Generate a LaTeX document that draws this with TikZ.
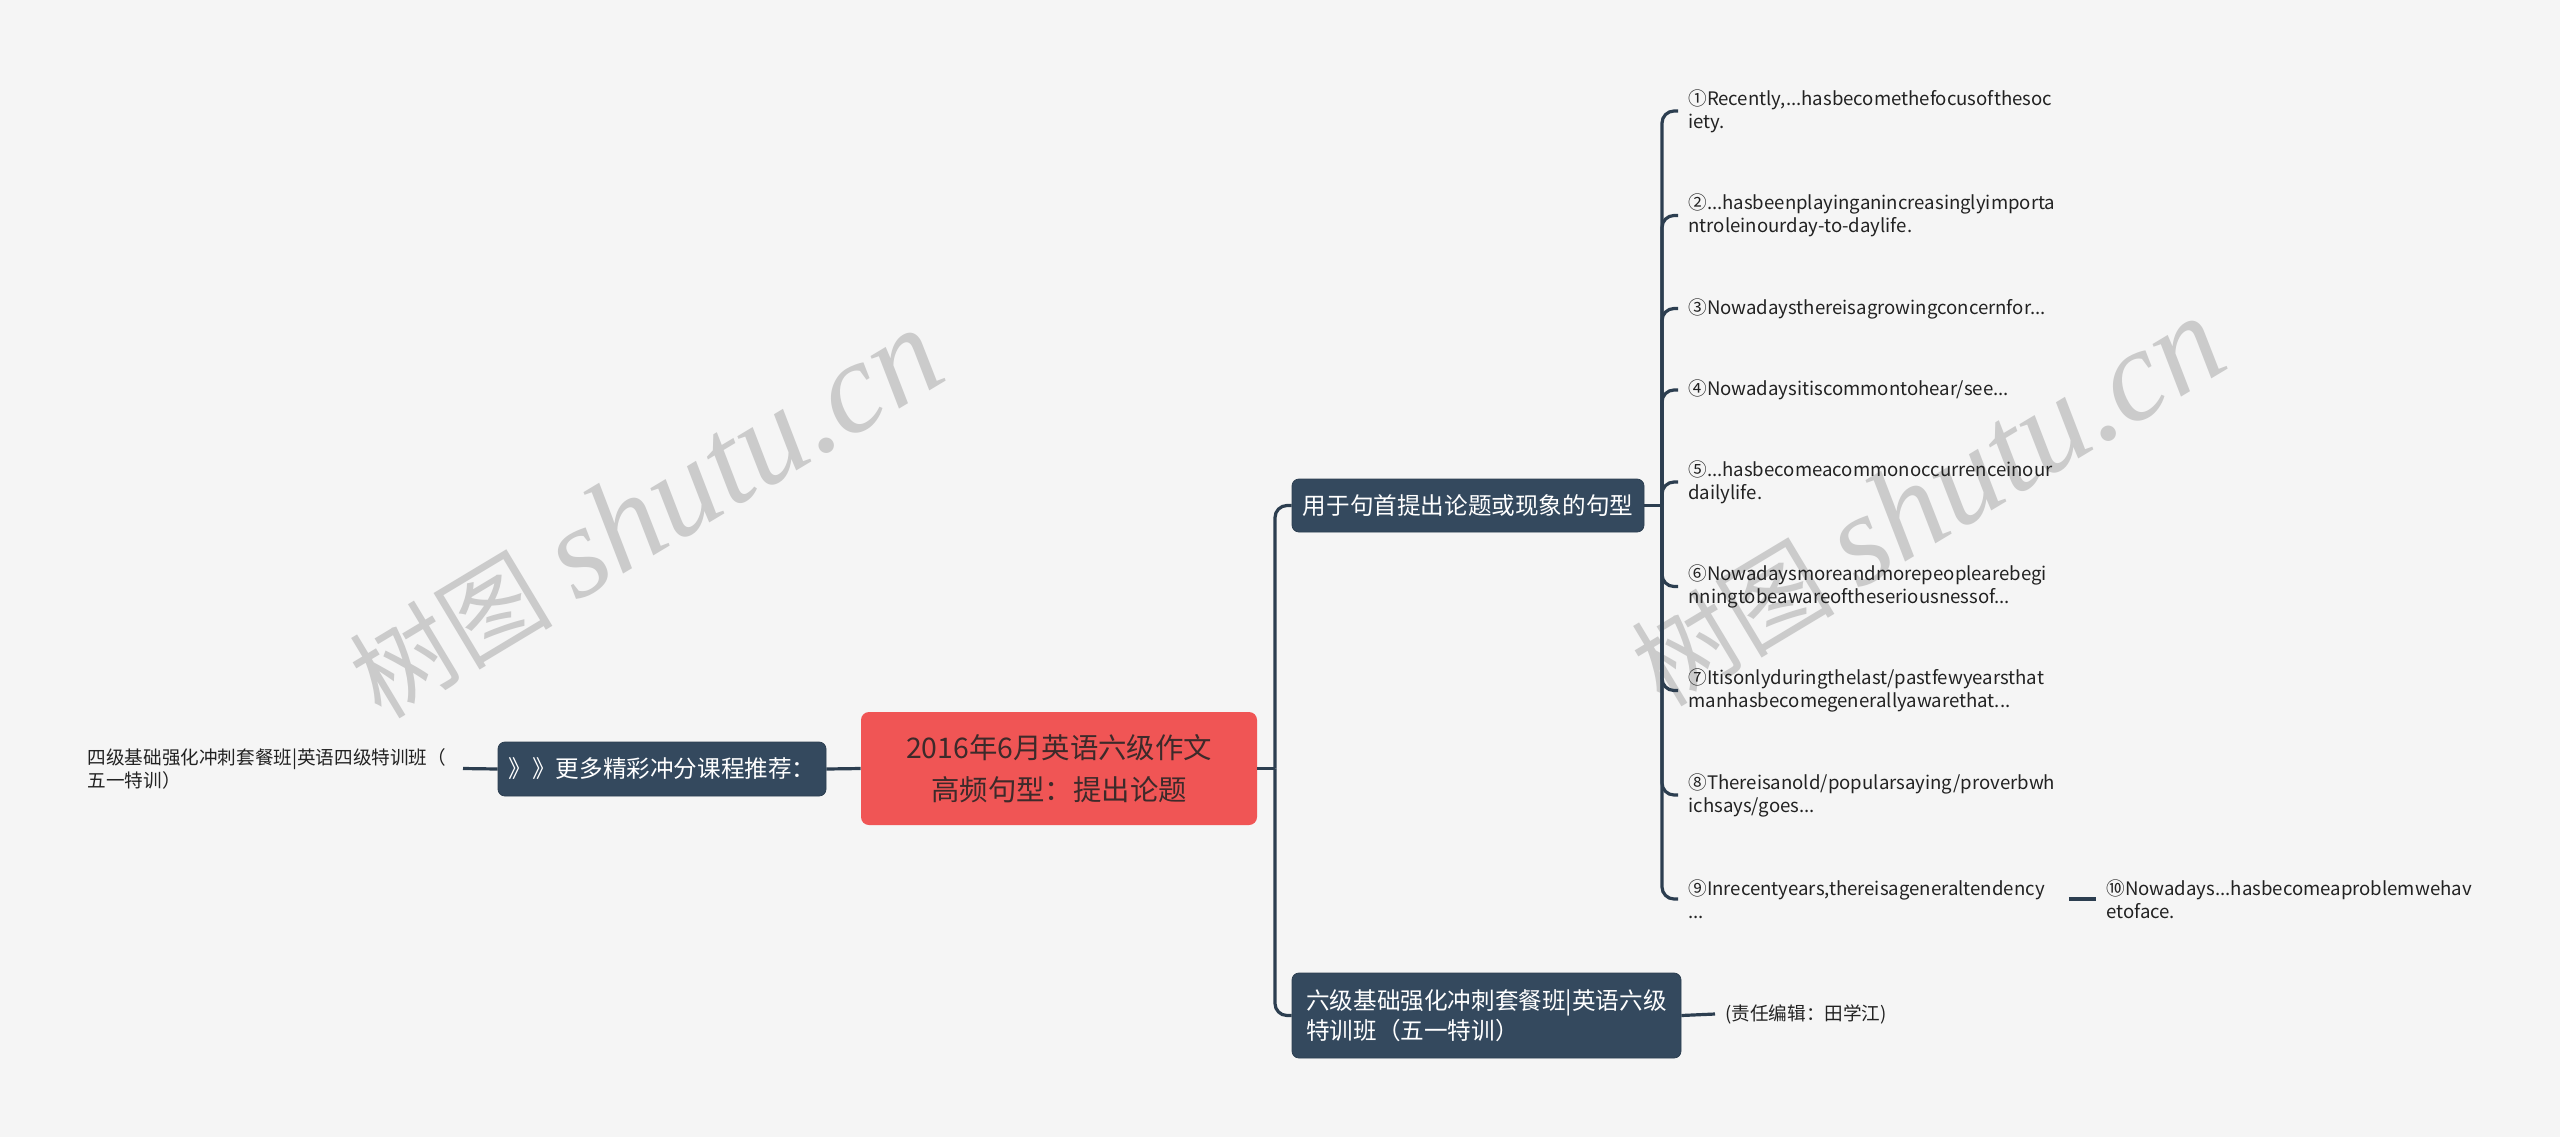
\documentclass[tikz,border=0pt]{standalone}
\usepackage{fontspec}
\setmainfont{Noto Sans CJK SC}
\newfontfamily\wmcjk{Noto Sans CJK SC}
\newfontfamily\wmlat{Liberation Serif}
\hyphenpenalty=10000
\exhyphenpenalty=10000
\definecolor{bgc}{HTML}{F5F5F5}
\definecolor{redc}{HTML}{F05555}
\definecolor{ctext}{HTML}{3D2A2A}
\definecolor{slate}{HTML}{34495E}
\definecolor{linec}{HTML}{2C3E50}
\definecolor{leaftext}{HTML}{222222}
\definecolor{wmc}{HTML}{CBCBCB}
\begin{document}
\begin{tikzpicture}[x=0.5pt,y=-0.5pt,
  centerbox/.style={fill=redc, rounded corners=4pt, minimum width=198pt, minimum height=56.5pt,
    align=center, inner sep=0pt, text=ctext, font=\fontsize{14.2pt}{21pt}\selectfont},
  branchbox/.style={fill=slate, draw=linec, line width=0.4pt, rounded corners=3.5pt, inner sep=0pt,
    text=white, font=\fontsize{11.8pt}{15pt}\selectfont},
  leafbox/.style={anchor=west, text width=185pt, align=left, inner xsep=5pt, inner ysep=0pt,
    text=leaftext, font=\fontsize{9.3pt}{11.5pt}\selectfont},
  leafone/.style={anchor=west, inner xsep=5pt, inner ysep=0pt,
    text=leaftext, font=\fontsize{9.3pt}{11.5pt}\selectfont},
  conn/.style={draw=linec, line width=1.6pt},
  curved/.style={conn, rounded corners=6pt},
  wm/.style={text=wmc, inner sep=0pt}
]
\fill[bgc] (0,0) rectangle (2560,1137);
\useasboundingbox (0,0) rectangle (2560,1137);

% watermarks
\node[wm, rotate=31] (w1) at (645,514) {{\wmcjk\fontsize{51pt}{60pt}\selectfont 树图}\hspace*{12pt}{\wmlat\itshape\fontsize{65pt}{70pt}\selectfont shutu.cn}};
\node[wm, rotate=31] (w2) at (1927,502) {{\wmcjk\fontsize{51pt}{60pt}\selectfont 树图}\hspace*{12pt}{\wmlat\itshape\fontsize{65pt}{70pt}\selectfont shutu.cn}};

% main nodes
\node[centerbox] (c) at (1059,768.5) {2016年6月英语六级作文\\高频句型：提出论题};
\node[branchbox, minimum width=176pt, minimum height=26.5pt] (b1) at (1468,505.5) {用于句首提出论题或现象的句型};
\node[branchbox, minimum width=194.5pt, minimum height=42.5pt, align=left] (b2) at (1486.5,1015.5) {六级基础强化冲刺套餐班|英语六级\\特训班（五一特训）};
\node[branchbox, minimum width=164pt, minimum height=27pt] (lb) at (662,769) {》》更多精彩冲分课程推荐：};

% left leaf
\node[leafbox, anchor=east, text width=182.5pt] (ll) at (463,768.5) {四级基础强化冲刺套餐班|英语四级特训班（\\五一特训）};

% right leaves
\node[leafbox] (l1) at (1678,111) {①Recently,...hasbecomethefocusofthesoc\\iety.};
\node[leafbox] (l2) at (1678,215.5) {②...hasbeenplayinganincreasinglyimporta\\ntroleinourday-to-daylife.};
\node[leafbox] (l3) at (1678,308.5) {③Nowadaysthereisagrowingconcernfor...};
\node[leafbox] (l4) at (1678,390) {④Nowadaysitiscommontohear/see...};
\node[leafbox] (l5) at (1678,482) {⑤...hasbecomeacommonoccurrenceinour\\dailylife.};
\node[leafbox] (l6) at (1678,586.5) {⑥Nowadaysmoreandmorepeoplearebegi\\nningtobeawareoftheseriousnessof...};
\node[leafbox] (l7) at (1678,690.5) {⑦Itisonlyduringthelast/pastfewyearsthat\\manhasbecomegenerallyawarethat...};
\node[leafbox] (l8) at (1678,795) {⑧Thereisanold/popularsaying/proverbwh\\ichsays/goes...};
\node[leafbox] (l9) at (1678,899) {⑨Inrecentyears,thereisageneraltendency\\...};
\node[leafbox] (l10) at (2096,899) {⑩Nowadays...hasbecomeaproblemwehav\\etoface.};
\node[leafone] (ed) at (1715,1014) {(责任编辑：田学江)};

% connectors
\coordinate (s1) at (1275,768.5);
\coordinate (s2) at (1662,505.5);
\draw[conn] (c.east) -- (s1);
\draw[curved] (s1) |- (b1.west);
\draw[curved] (s1) |- (b2.west);
\draw[conn] (b1.east) -- (s2);
\foreach \n in {l1,l2,l3,l4,l5,l6,l7,l8,l9}{
  \draw[curved] (s2) |- (\n.west);
}
\draw[conn] (l9.east) -- (l10.west);
\draw[conn] (b2.east) -- (ed.west);
\draw[conn] (c.west) -- (lb.east);
\draw[conn] (lb.west) -- (ll.east);
\end{tikzpicture}
\end{document}
